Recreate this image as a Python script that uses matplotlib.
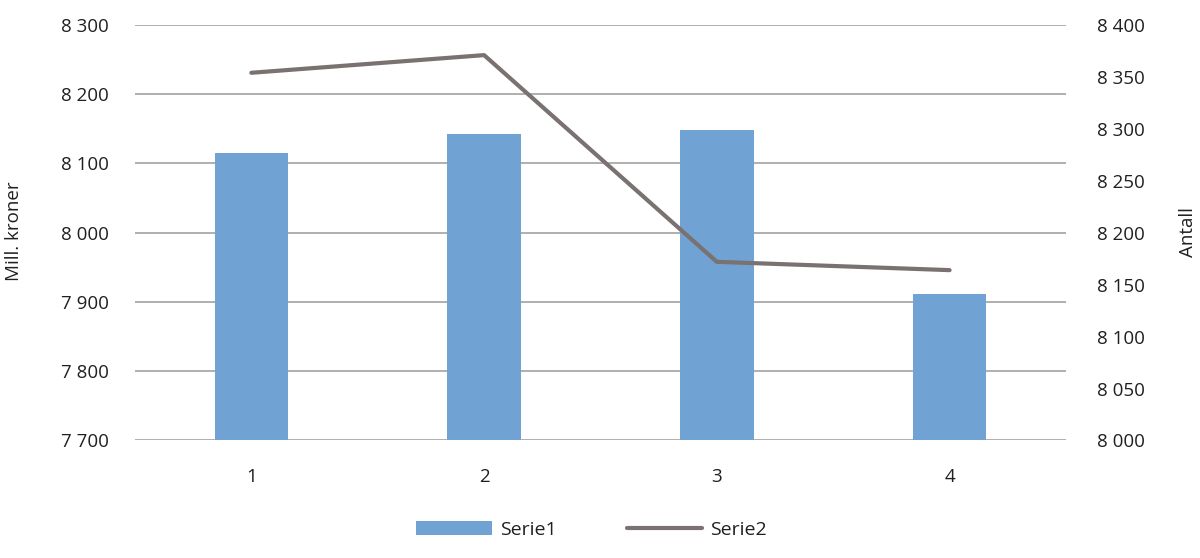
import matplotlib.pyplot as plt
from matplotlib.ticker import FuncFormatter

plt.rcParams["font.family"] = ["Open Sans", "DejaVu Sans"]

categories = ["1", "2", "3", "4"]
serie1 = [8115, 8142, 8148, 7911]
serie2 = [8354, 8371, 8172, 8164]

left_ticks = [7700, 7800, 7900, 8000, 8100, 8200, 8300]
right_ticks = [8000, 8050, 8100, 8150, 8200, 8250, 8300, 8350, 8400]


def space_thousands(v, pos):
    return f"{int(v):,}".replace(",", " ")


fig = plt.figure(figsize=(12, 5.58), dpi=100)
ax = fig.add_axes([0.1125, 0.2106, 0.7758, 0.7446])
x = range(len(categories))

ax.bar(x, serie1, width=0.315, color="#70a3d4", label="Serie1", zorder=2)
ax.set_ylim(7700, 8300)
ax.set_xlim(-0.5, 3.5)
ax.set_yticks(left_ticks)
ax.yaxis.set_major_formatter(FuncFormatter(space_thousands))
ax.set_xticks(list(x))
ax.set_xticklabels(categories)
ax.grid(axis="y", color="#9a9a9a", linewidth=1.1, zorder=0)
ax.set_axisbelow(True)
for s in ax.spines.values():
    s.set_visible(False)
ax.tick_params(length=0, labelsize=13.5, colors="#231f20", pad=19)
ax.tick_params(axis="x", pad=20)

ax2 = ax.twinx()
ax2.plot(x, serie2, color="#7a7171", linewidth=3, label="Serie2", solid_capstyle="round")
ax2.set_ylim(8000, 8400)
ax2.set_yticks(right_ticks)
ax2.yaxis.set_major_formatter(FuncFormatter(space_thousands))
for s in ax2.spines.values():
    s.set_visible(False)
ax2.tick_params(length=0, labelsize=13.5, colors="#231f20", pad=22)

fig.text(0.012, 0.585, "Mill. kroner", rotation=90, ha="center", va="center",
         fontsize=13.5, color="#231f20")
fig.text(0.99, 0.585, "Antall", rotation=90, ha="center", va="center",
         fontsize=13.5, color="#231f20")

h1, l1 = ax.get_legend_handles_labels()
h2, l2 = ax2.get_legend_handles_labels()
fig.legend(h1 + h2, l1 + l2, loc="center", bbox_to_anchor=(0.493, 0.05), ncol=2,
           frameon=False, fontsize=14, handlelength=3.9, handleheight=0.7,
           columnspacing=3.6, handletextpad=0.4, labelcolor="#231f20")

fig.savefig("out.png", dpi=100)
